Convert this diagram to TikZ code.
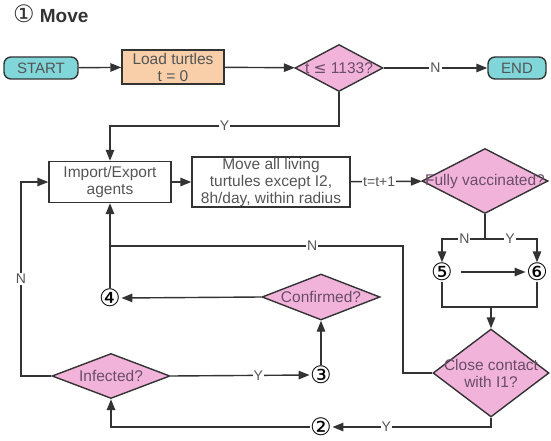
\documentclass[tikz,border=0pt]{standalone}
\usepackage{fontspec}
\setmainfont{Liberation Sans}
\newfontfamily\circfont{DejaVu Sans}
\usetikzlibrary{arrows.meta, shapes.geometric, positioning}

\definecolor{termcyan}{HTML}{80D6D8}
\definecolor{loadpeach}{HTML}{F8CFA8}
\definecolor{decpink}{HTML}{F2B3DB}
\definecolor{linegray}{HTML}{333333}
\definecolor{textgray}{HTML}{555555}
\definecolor{dectext}{HTML}{6A4D66}

\begin{document}
\begin{tikzpicture}[x=1pt, y=-1pt, line width=1.4pt, draw=linegray,
		term/.style = {draw, fill=termcyan, rounded corners=7pt, inner sep=0pt,
			text=textgray, font=\fontsize{15}{17}\selectfont},
		proc/.style = {draw, rectangle, inner sep=0pt, align=center,
			text=textgray, font=\fontsize{15.5}{17}\selectfont},
		dec/.style = {draw, diamond, fill=decpink, inner sep=0pt},
		dectxt/.style = {align=center, text=dectext, font=\fontsize{15.5}{17}\selectfont},
		lbl/.style = {fill=white, inner sep=1pt, text=textgray, font=\fontsize{14}{15}\selectfont},
		num/.style = {inner sep=0pt, font=\circfont\fontsize{24}{24}\selectfont},
		arr/.style = {-{Triangle[length=11pt, width=8.5pt]}}]
		\useasboundingbox (0,0) rectangle (551,441);

		% top row
		\node (title) at (9,14) [anchor=west, font=\fontsize{19}{21}\selectfont\bfseries, text=linegray] {{\circfont\mdseries\fontsize{24}{24}\selectfont ①} Move};
		\node (start) at (41,68) [term, minimum width=74pt, minimum height=22pt] {START};
		\node (load) at (173,67) [proc, fill=loadpeach, minimum width=102pt, minimum height=34pt] {Load turtles\\t = 0};
		\node (tle) at (339,68) [dec, minimum width=88pt, minimum height=47pt] {};
		\node (tletxt) at (tle) [dectxt] {t {\circfont ≤} 1133?};
		\node (end) at (517,68) [term, minimum width=58pt, minimum height=22pt] {END};

		% middle row
		\node (imp) at (110,182) [proc, minimum width=122pt, minimum height=41pt] {Import/Export\\agents};
		\node (move) at (271,182) [proc, minimum width=158pt, minimum height=50pt] {Move all living\\turtules except I2,\\8h/day, within radius};
		\node (fv) at (485,181) [dec, minimum width=126pt, minimum height=65pt] {};
		\node (fvtxt) at (fv) [dectxt] {Fully vaccinated?};
		\node (n5) at (442,272) [num] {⑤};
		\node (n6) at (537,272) [num] {⑥};

		% lower part
		\node (n4) at (110,298) [num] {④};
		\node (conf) at (321,297) [dec, minimum width=118pt, minimum height=46pt] {};
		\node (conftxt) at (conf) [dectxt] {Confirmed?};
		\node (inf) at (111,376) [dec, minimum width=118pt, minimum height=45pt] {};
		\node (inftxt) at (inf) [dectxt] {Infected?};
		\node (n3) at (321,375) [num] {③};
		\node (cc) at (491,373) [dec, minimum width=116pt, minimum height=88pt] {};
		\node (cctxt) at (cc) [dectxt] {Close contact\\with I1?};
		\node (n2) at (321,427) [num] {②};

		\coordinate (ybend) at (110,126);
		\coordinate (fvsplit) at (485,239);
		\coordinate (merge) at (491,307);
		\coordinate (nbend) at (403,246);
		\coordinate (njoin) at (110,246);
		\coordinate (leftrail) at (21,182);

		\draw [arr] (start) -- (load);
		\draw [arr] (load) -- (tle);
		\draw [arr] (tle) -- node [lbl] {N} (end);
		\draw [arr] (tle.south) |- node [lbl, pos=0.75] {Y} (ybend) -- (imp.north);
		\draw [arr] (imp) -- (move);
		\draw [arr] (move) -- node [lbl, pos=0.4] {t=t+1} (fv);

		\draw (fv.south) -- (fvsplit);
		\draw [arr] (fvsplit) -| node [lbl, pos=0.24] {N} (n5.north);
		\draw [arr] (fvsplit) -| node [lbl, pos=0.24] {Y} (n6.north);
		\draw [arr, shorten <=8pt] (n5.east) -- (n6.west);
		\draw (n5.south) |- (merge) -| (n6.south);
		\draw [arr] (merge) -- (cc.north);

		\draw (cc.west) -| (nbend) -- node [lbl, pos=0.31] {N} (njoin);
		\draw [arr] (n4.north) -- (imp.south);
		\draw [arr] (conf.west) -- (n4.east);
		\draw [arr] (n3.north) -- (conf.south);
		\draw [arr] (inf.east) -- node [lbl, pos=0.63] {Y} (n3.west);
		\draw [arr] (inf.west) -| node [lbl, pos=0.75] {N} (leftrail) -- (imp.west);
		\draw [arr] (cc.south) |- node [lbl, pos=0.83] {Y} (n2.east);
		\draw [arr] (n2.west) -| (inf.south);
	\end{tikzpicture}
\end{document}
